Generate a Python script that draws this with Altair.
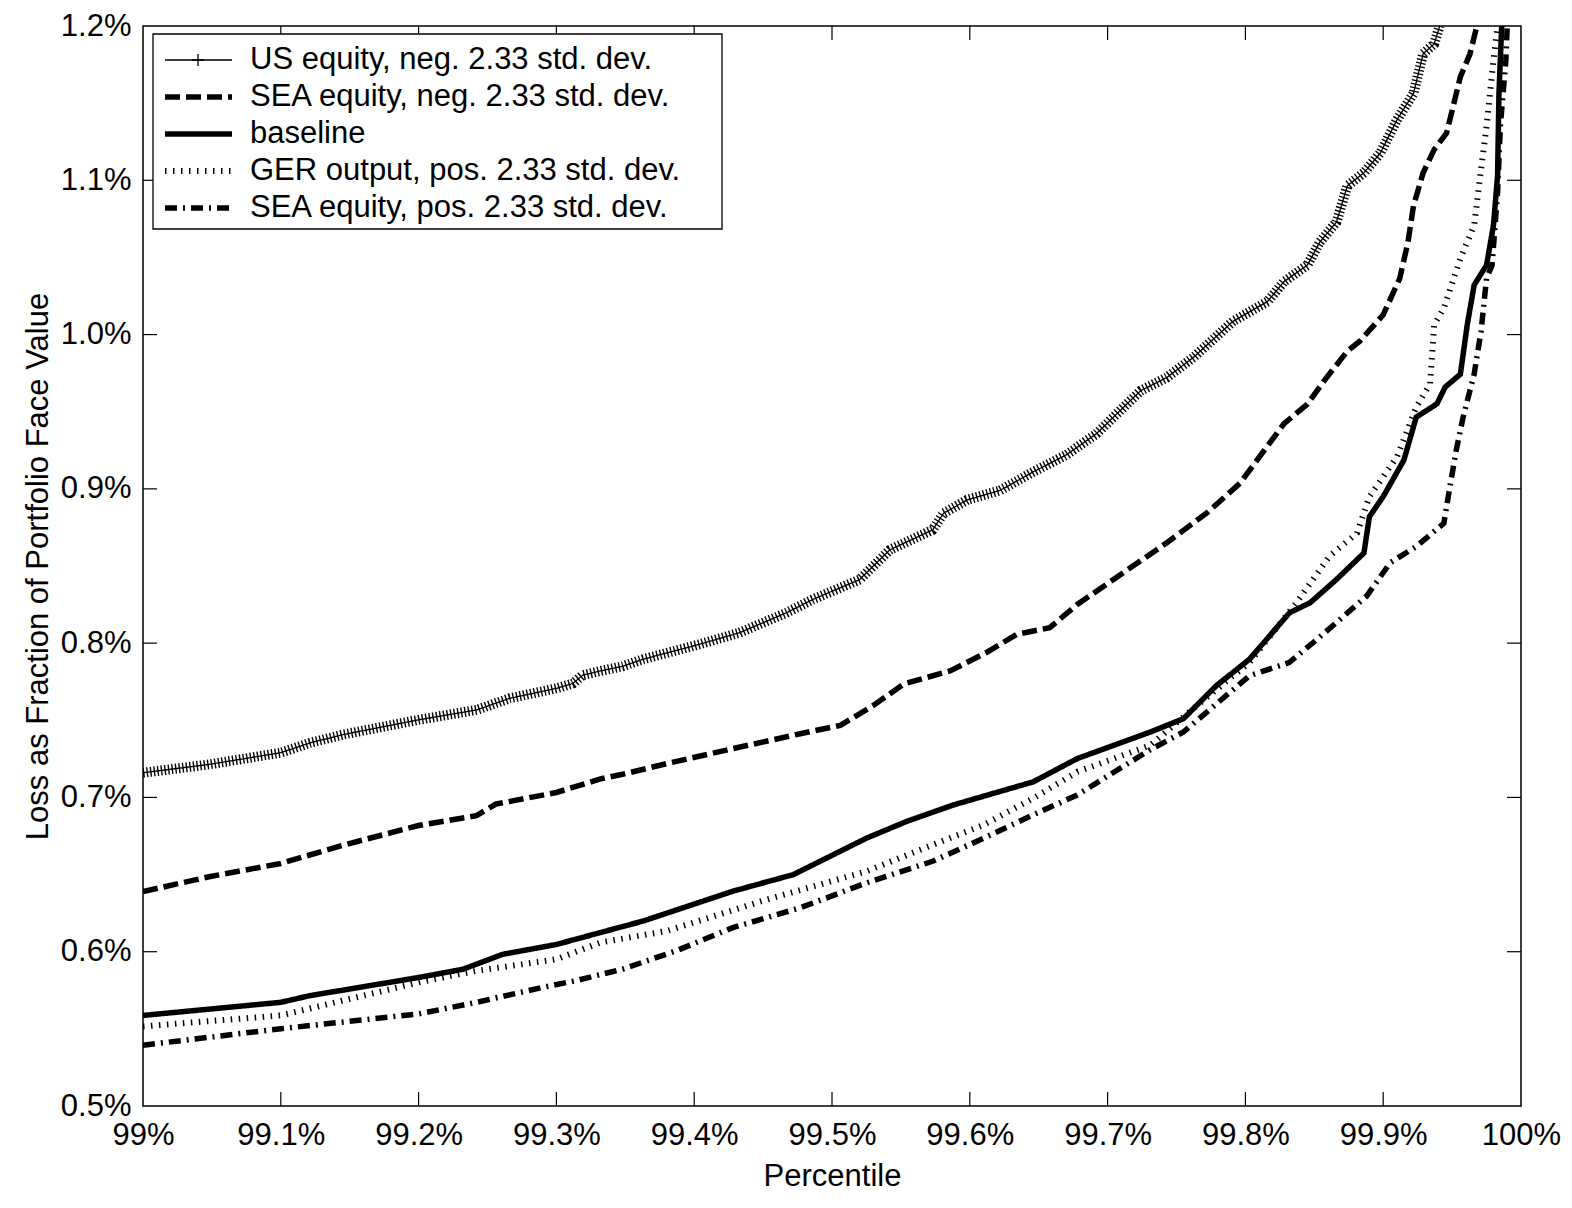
import altair as alt
import pandas as pd

FONT = "Liberation Sans"
W, H = 1378, 1080
TOP = 18  # plot top at page y = 8 + TOP

series_names = [
    "US equity, neg. 2.33 std. dev.",
    "SEA equity, neg. 2.33 std. dev.",
    "baseline",
    "GER output, pos. 2.33 std. dev.",
    "SEA equity, pos. 2.33 std. dev.",
]

us_x = [99.000, 99.048, 99.100, 99.121, 99.145, 99.200, 99.242, 99.266, 99.300, 99.312,
        99.319, 99.332, 99.348, 99.363, 99.404, 99.433, 99.467, 99.486, 99.520, 99.542,
        99.573, 99.581, 99.598, 99.622, 99.646, 99.670, 99.692, 99.714, 99.724, 99.743,
        99.762, 99.791, 99.816, 99.828, 99.845, 99.854, 99.866, 99.874, 99.886, 99.898,
        99.910, 99.922, 99.929, 99.937, 99.941]
us_y = [0.716, 0.7214, 0.729, 0.7353, 0.7407, 0.7503, 0.7567, 0.7642, 0.7707, 0.7739,
        0.7792, 0.782, 0.785, 0.7896, 0.7993, 0.8068, 0.8197, 0.8283, 0.8412, 0.8605,
        0.8734, 0.8842, 0.8928, 0.899, 0.911, 0.922, 0.9358, 0.955, 0.9636, 0.9722,
        0.985, 1.0086, 1.0214, 1.0343, 1.045, 1.06, 1.0728, 1.0964, 1.1049, 1.1178,
        1.1392, 1.1563, 1.182, 1.1884, 1.2]

sea_neg_x = [99.000, 99.048, 99.100, 99.145, 99.200, 99.242, 99.256, 99.300, 99.332, 99.348,
             99.380, 99.428, 99.477, 99.506, 99.530, 99.552, 99.586, 99.612, 99.634, 99.658,
             99.678, 99.743, 99.772, 99.796, 99.828, 99.845, 99.859, 99.874, 99.883, 99.900,
             99.912, 99.918, 99.922, 99.929, 99.937, 99.946, 99.956, 99.963, 99.968]
sea_neg_y = [0.639, 0.6486, 0.6572, 0.669, 0.6818, 0.6882, 0.6957, 0.7032, 0.712, 0.715,
             0.7219, 0.7316, 0.7413, 0.7467, 0.7596, 0.7735, 0.7821, 0.7939, 0.8057, 0.810,
             0.8251, 0.8651, 0.8844, 0.9036, 0.9422, 0.955, 0.9722, 0.9893, 0.9957, 1.0128,
             1.0364, 1.06, 1.0835, 1.1049, 1.1199, 1.1306, 1.167, 1.182, 1.2]

base_x = [99.000, 99.100, 99.121, 99.200, 99.232, 99.261, 99.300, 99.331, 99.363, 99.428,
          99.472, 99.525, 99.554, 99.588, 99.617, 99.646, 99.678, 99.731, 99.755, 99.779,
          99.803, 99.832, 99.847, 99.866, 99.886, 99.890, 99.900, 99.915, 99.924, 99.939,
          99.945, 99.956, 99.961, 99.966, 99.975, 99.980, 99.983, 99.984, 99.986]
base_y = [0.5587, 0.5672, 0.5715, 0.5833, 0.5886, 0.5983, 0.6047, 0.6122, 0.6199, 0.6392,
          0.650, 0.6736, 0.6844, 0.6951, 0.7026, 0.7101, 0.7252, 0.7424, 0.751, 0.7725,
          0.7896, 0.8197, 0.8262, 0.8412, 0.8584, 0.882, 0.895, 0.9186, 0.9465, 0.9551,
          0.966, 0.9743, 1.0064, 1.0321, 1.045, 1.0707, 1.1028, 1.1563, 1.2]

ger_x = [99.000, 99.100, 99.200, 99.242, 99.300, 99.332, 99.380, 99.453, 99.525, 99.561,
         99.610, 99.646, 99.678, 99.731, 99.762, 99.803, 99.837, 99.861, 99.881, 99.890,
         99.910, 99.924, 99.934, 99.937, 99.944, 99.956, 99.966, 99.971, 99.975, 99.980,
         99.983]
ger_y = [0.5516, 0.5587, 0.5801, 0.5876, 0.5951, 0.606, 0.6134, 0.6339, 0.6521, 0.665,
         0.6822, 0.6994, 0.7166, 0.7338, 0.7574, 0.7875, 0.8262, 0.8563, 0.8713, 0.895,
         0.9207, 0.953, 0.968, 1.0064, 1.0171, 1.0493, 1.0707, 1.1071, 1.1349, 1.1777,
         1.2]

sea_pos_x = [99.000, 99.100, 99.200, 99.242, 99.290, 99.314, 99.348, 99.387, 99.428, 99.477,
             99.525, 99.573, 99.610, 99.646, 99.678, 99.731, 99.755, 99.803, 99.832, 99.852,
             99.866, 99.888, 99.905, 99.924, 99.944, 99.948, 99.953, 99.958, 99.966, 99.971,
             99.975, 99.979, 99.983, 99.985, 99.989, 99.990]
sea_pos_y = [0.5394, 0.5501, 0.5597, 0.5672, 0.5769, 0.5812, 0.5887, 0.6006, 0.6156, 0.6285,
             0.6446, 0.6586, 0.6736, 0.6887, 0.7016, 0.731, 0.7424, 0.7789, 0.7875, 0.8025,
             0.8133, 0.8305, 0.852, 0.8627, 0.8777, 0.8992, 0.925, 0.9465, 0.9743, 1.0021,
             1.0364, 1.045, 1.0921, 1.1349, 1.1777, 1.2]

x_ticks = [99.0, 99.1, 99.2, 99.3, 99.4, 99.5, 99.6, 99.7, 99.8, 99.9, 100.0]
y_ticks = [0.5, 0.6, 0.7, 0.8, 0.9, 1.0, 1.1, 1.2]

# line styles: (strokeWidth, strokeDash)
styles = {
    series_names[0]: (1.3, [1, 0]),
    series_names[1]: (5.5, [15, 6]),
    series_names[2]: (5.5, [1, 0]),
    series_names[3]: (6, [1.5, 6.5]),
    series_names[4]: (5.5, [12, 6, 2, 6]),
}

xscale = alt.Scale(domain=[99, 100], nice=False, zero=False)
yscale = alt.Scale(domain=[0.5, 1.2], nice=False, zero=False)

x_axis = alt.Axis(
    values=x_ticks,
    labelExpr="abs(datum.value - round(datum.value)) < 1e-6 ? format(datum.value, '.0f') + '%' : format(datum.value, '.1f') + '%'",
    ticks=False, tickSize=0, domain=False, grid=False,
    labelFont=FONT, labelFontSize=31, labelColor="black", labelPadding=14,
    labelFlush=False, labelOverlap=False,
    title="Percentile", titleFont=FONT, titleFontSize=31, titleFontWeight="normal",
    titleColor="black", titleX=W / 2, titleY=79, titleBaseline="alphabetic", titleAlign="center",
)
y_axis = alt.Axis(
    values=y_ticks,
    labelExpr="format(datum.value, '.1f') + '%'",
    ticks=False, tickSize=0, domain=False, grid=False,
    labelFont=FONT, labelFontSize=31, labelColor="black", labelPadding=12,
    labelFlush=False, labelOverlap=False,
    title="Loss as Fraction of Portfolio Face Value", titleFont=FONT, titleFontSize=31,
    titleFontWeight="normal", titleColor="black", titleX=-96, titleY=H / 2,
    titleAngle=270, titleBaseline="alphabetic", titleAlign="center",
)

series_data = [(us_x, us_y), (sea_neg_x, sea_neg_y), (ger_x, ger_y), (sea_pos_x, sea_pos_y), (base_x, base_y)]
draw_names = [series_names[0], series_names[1], series_names[3], series_names[4], series_names[2]]

layers = []
for name, (xs, ys) in zip(draw_names, series_data):
    df = pd.DataFrame({"pct": xs, "loss": ys, "order": list(range(len(xs)))})
    w, d = styles[name]
    layers.append(
        alt.Chart(df).mark_line(color="black", strokeWidth=w, strokeDash=d, clip=True, strokeCap="butt")
        .encode(
            x=alt.X("pct:Q", scale=xscale, axis=x_axis),
            y=alt.Y("loss:Q", scale=yscale, axis=y_axis),
            order="order:Q",
        )
    )
    if name == series_names[0]:
        # dense "+" markers rendered as perpendicular ticks along the line
        layers.append(
            alt.Chart(df).mark_line(color="black", strokeWidth=10, strokeDash=[1.4, 2.2], clip=True, strokeCap="butt")
            .encode(
                x=alt.X("pct:Q", scale=xscale, axis=x_axis),
                y=alt.Y("loss:Q", scale=yscale, axis=y_axis),
                order="order:Q",
            )
        )

# inward ticks on all four sides
xt = pd.DataFrame({"pct": x_ticks[1:-1]})
yt = pd.DataFrame({"loss": y_ticks[1:-1]})
TL = 14
layers.append(alt.Chart(xt).mark_rule(color="black", strokeWidth=1.2).encode(
    x=alt.X("pct:Q", scale=xscale, axis=x_axis), y=alt.value(H), y2=alt.value(H - TL)))
layers.append(alt.Chart(xt).mark_rule(color="black", strokeWidth=1.2).encode(
    x=alt.X("pct:Q", scale=xscale, axis=x_axis), y=alt.value(0), y2=alt.value(TL)))
layers.append(alt.Chart(yt).mark_rule(color="black", strokeWidth=1.2).encode(
    y=alt.Y("loss:Q", scale=yscale, axis=y_axis), x=alt.value(0), x2=alt.value(TL)))
layers.append(alt.Chart(yt).mark_rule(color="black", strokeWidth=1.2).encode(
    y=alt.Y("loss:Q", scale=yscale, axis=y_axis), x=alt.value(W), x2=alt.value(W - TL)))

# legend box (positions relative to plot top-left)
box_df = pd.DataFrame({"k": [0]})
layers.append(alt.Chart(box_df).mark_rect(fill="white", stroke="black", strokeWidth=1.3).encode(
    x=alt.value(10), x2=alt.value(579), y=alt.value(8), y2=alt.value(203)))

row_y = [34, 71, 108, 145, 182]
for name, ry in zip(series_names, row_y):
    w, d = styles[name]
    ldf = pd.DataFrame({"label": [name]})
    layers.append(alt.Chart(ldf).mark_rule(color="black", strokeWidth=w, strokeDash=d, strokeCap="butt").encode(
        x=alt.value(22), x2=alt.value(89), y=alt.value(ry)))
    layers.append(alt.Chart(ldf).mark_text(align="left", baseline="middle", font=FONT, fontSize=31, color="black").encode(
        x=alt.value(107), y=alt.value(ry), text="label:N"))
    if name == series_names[0]:
        layers.append(alt.Chart(ldf).mark_point(shape="M-1,0L1,0M0,-1L0,1", size=150, filled=False,
                                                color="black", strokeWidth=1.3, opacity=1).encode(
            x=alt.value(55), y=alt.value(ry)))

chart = alt.layer(*layers).properties(
    width=W, height=H,
    autosize=alt.AutoSizeParams(type="none"),
    padding={"left": 135, "top": TOP, "right": 40, "bottom": 88},
    background="white",
).configure_view(stroke="black", strokeWidth=1.5)

chart.save("out.html", embed_options={"renderer": "svg", "actions": False})
